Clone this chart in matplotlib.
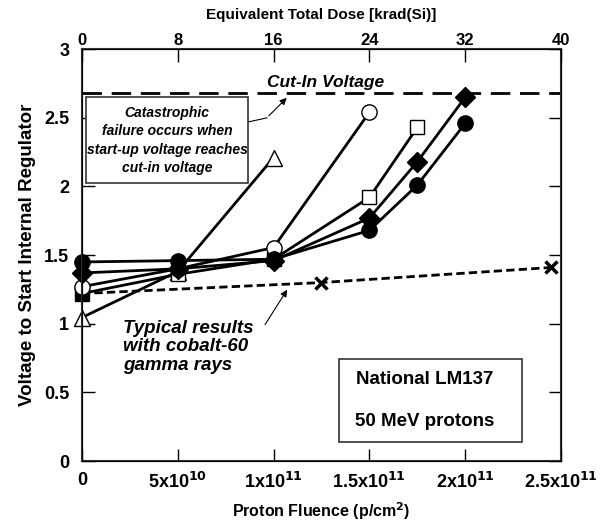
import matplotlib
matplotlib.use("Agg")
import matplotlib.pyplot as plt
from matplotlib.patches import Rectangle

plt.rcParams['font.family'] = ['Liberation Sans', 'DejaVu Sans']
plt.rcParams['font.weight'] = 'bold'

# proton fluence (p/cm2) and start-up voltage (V) per device
fl_fcirc = [0, 5e10, 1e11, 1.5e11, 1.75e11, 2e11]
v_fcirc = [1.45, 1.46, 1.47, 1.68, 2.01, 2.46]
fl_diam = [0, 5e10, 1e11, 1.5e11, 1.75e11, 2e11]
v_diam = [1.37, 1.40, 1.46, 1.77, 2.18, 2.65]
fl_ocirc = [0, 5e10, 1e11, 1.5e11]
v_ocirc = [1.27, 1.40, 1.555, 2.54]
fl_osq = [0, 5e10, 1e11, 1.5e11, 1.75e11]
v_osq = [1.22, 1.36, 1.47, 1.92, 2.43]
fl_tri = [0, 5e10, 1e11]
v_tri = [1.045, 1.38, 2.21]
fl_co = [0, 1.25e11, 2.45e11]
v_co = [1.22, 1.30, 1.41]
cut_in = 2.68

xticks = [0, 5e10, 1e11, 1.5e11, 2e11, 2.5e11]
xlabels = ["0", "5x10$^{10}$", "1x10$^{11}$", "1.5x10$^{11}$",
           "2x10$^{11}$", "2.5x10$^{11}$"]
yticks = [0, 0.5, 1, 1.5, 2, 2.5, 3]
ylabels = ["0", "0.5", "1", "1.5", "2", "2.5", "3"]
dose_ticks = [0, 8, 16, 24, 32, 40]

fig = plt.figure(figsize=(6.02, 5.29), dpi=100)
ax = fig.add_axes([0.136, 0.1285, 0.796, 0.7785])

ax.axhline(cut_in, color="k", lw=2, dashes=(7, 3.5))
ax.plot(fl_co, v_co, color="k", lw=2, dashes=(3, 1.5), marker="x",
        ms=9, mew=2.5, markevery=[1, 2], clip_on=False)

ax.plot(fl_tri, v_tri, "k-", lw=2, marker="^", mfc="white", mec="k", ms=12,
        mew=1, clip_on=False)
ax.plot(fl_osq, v_osq, "k-", lw=2, marker="s", mfc="white", mec="k", ms=10,
        mew=1, markevery=[1, 2, 3, 4], clip_on=False)
ax.plot(fl_osq[:1], v_osq[:1], "ks", ms=10, clip_on=False)
ax.plot(fl_ocirc, v_ocirc, "k-", lw=2, marker="o", mfc="white", mec="k",
        ms=11, mew=1, clip_on=False)
ax.plot(fl_diam, v_diam, "k-", lw=2, marker="D", mfc="k", mec="k", ms=10,
        clip_on=False)
ax.plot(fl_fcirc, v_fcirc, "k-", lw=2, marker="o", mfc="k", mec="k", ms=11,
        clip_on=False)

ax.set_xlim(0, 2.5e11)
ax.set_ylim(0, 3)
ax.set_xticks(xticks)
ax.set_xticklabels(xlabels)
ax.set_yticks(yticks)
ax.set_yticklabels(ylabels)
ax.tick_params(direction="in", length=9, width=1, labelsize=13,
               right=True, pad=8)
ax.tick_params(axis="y", pad=9)
for s in ax.spines.values():
    s.set_linewidth(1.5)
    s.set_color("#333333")

ax.set_xlabel("Proton Fluence (p/cm$^2$)", fontsize=11.5, fontweight="bold", labelpad=6)
ax.set_ylabel("Voltage to Start Internal Regulator", fontsize=13.5,
              fontweight="bold", labelpad=6)

top = ax.twiny()
top.set_xlim(0, 40)
top.set_xticks(dose_ticks)
top.tick_params(direction="in", length=9, width=1, labelsize=12, pad=1)
top.set_xlabel("Equivalent Total Dose [krad(Si)]", fontsize=11,
               fontweight="bold", labelpad=10)

ax.text(1.27e11, 2.76, "Cut-In Voltage", style="italic", fontsize=12.5,
        ha="center", va="center")

ax.add_patch(Rectangle((0.02e11, 2.024), 0.848e11, 0.626, fc="white",
                       ec="#333333", lw=1.2, zorder=3))
ax.text(0.445e11, 2.335, "Catastrophic\nfailure occurs when\nstart-up voltage reaches\ncut-in voltage",
        style="italic", fontsize=10, ha="center", va="center",
        linespacing=1.42, zorder=4)
ax.plot([0.868e11, 0.965e11], [2.47, 2.50], "k-", lw=0.8)
ax.annotate("", xy=(1.079e11, cut_in - 0.02), xytext=(0.965e11, 2.50),
            arrowprops=dict(arrowstyle="-|>", color="k", lw=0.8,
                            mutation_scale=10))

ax.text(0.215e11, 1.03, "Typical results\nwith cobalt-60\ngamma rays",
        style="italic", fontsize=13.5, ha="left", va="top", linespacing=1.12)
ax.annotate("", xy=(1.079e11, 1.265), xytext=(0.948e11, 0.977),
            arrowprops=dict(arrowstyle="-|>", color="k", lw=0.8,
                            mutation_scale=10))

ax.add_patch(Rectangle((1.339e11, 0.136), 0.957e11, 0.604, fc="white",
                       ec="#333333", lw=1.2, zorder=3))
ax.text(1.79e11, 0.594, "National LM137", fontsize=13.5, ha="center",
        va="center", zorder=4)
ax.text(1.79e11, 0.286, "50 MeV protons", fontsize=13.5, ha="center",
        va="center", zorder=4)

fig.savefig("out.png", dpi=100)
